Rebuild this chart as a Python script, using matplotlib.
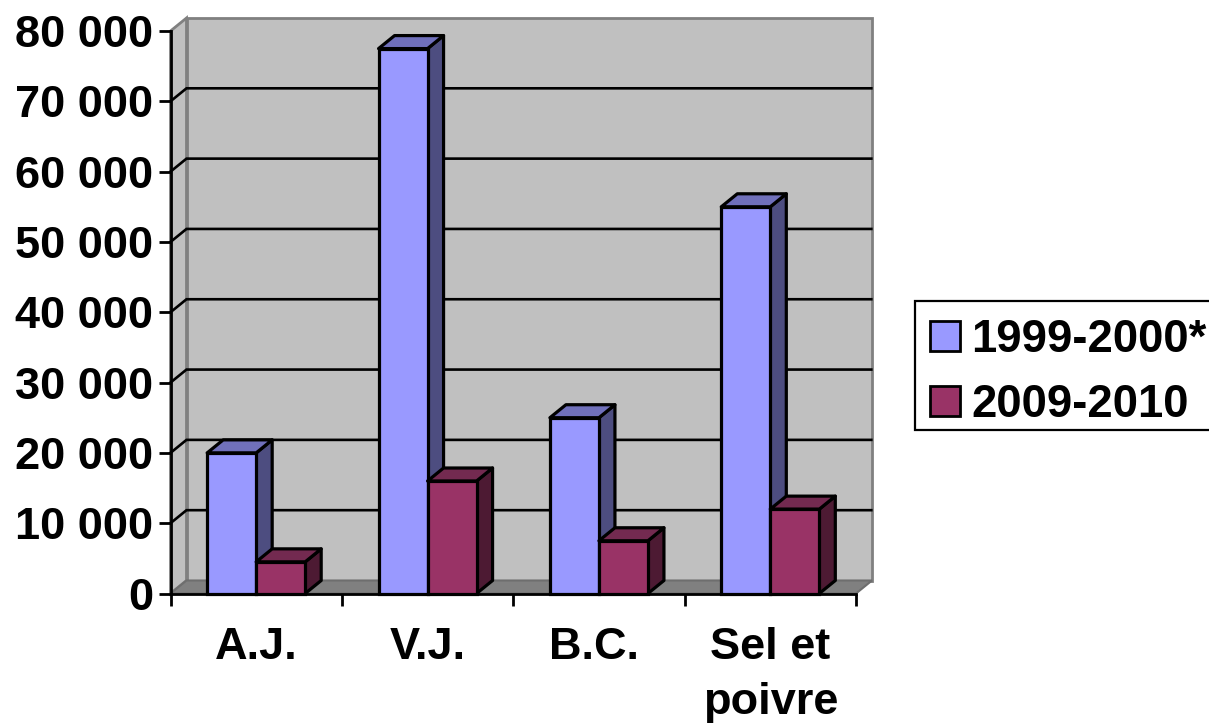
import matplotlib
matplotlib.use('Agg')
import matplotlib.pyplot as plt
from matplotlib.patches import Polygon, Rectangle

plt.rcParams['font.family'] = ['Liberation Sans', 'DejaVu Sans']
plt.rcParams['font.weight'] = 'bold'

categories = ['A.J.', 'V.J.', 'B.C.', 'Sel et\npoivre']
values_1999 = [20000, 77500, 25000, 55000]
values_2009 = [4500, 16000, 7500, 12000]
series_names = ['1999-2000*', '2009-2010']
y_ticks = [0, 10000, 20000, 30000, 40000, 50000, 60000, 70000, 80000]
y_labels = ['0', '10 000', '20 000', '30 000', '40 000', '50 000', '60 000', '70 000', '80 000']

W, H = 1209, 724
fig = plt.figure(figsize=(W / 100, H / 100), dpi=100)
left, right, top, bottom = 170.5, 856, 31, 593.5
ax = fig.add_axes([left / W, 1 - bottom / H, (right - left) / W, (bottom - top) / H])
ax.set_xlim(0, 4)
ax.set_ylim(0, 80000)
ax.patch.set_visible(False)

# depth of the fake 3d box, in data units
dx = 16 / (right - left) * 4
dy = 13 / (bottom - top) * 80000
bar_w = 49 / (right - left) * 4

GRAY = '#808080'
ax.add_patch(Polygon([(dx, dy), (4 + dx, dy), (4 + dx, 80000 + dy), (dx, 80000 + dy)],
                     fc='#c0c0c0', ec=GRAY, lw=2, clip_on=False, zorder=1))
ax.add_patch(Polygon([(0, 0), (dx, dy), (dx, 80000 + dy), (0, 80000)],
                     fc='#c0c0c0', ec=GRAY, lw=2, clip_on=False, zorder=1))
ax.add_patch(Polygon([(0, 0), (4, 0), (4 + dx, dy), (dx, dy)],
                     fc=GRAY, ec='#6e6e6e', lw=1.5, clip_on=False, zorder=1))

# no black line on the top edge of the wall
for t in y_ticks[1:-1]:
    ax.plot([0, dx, 4 + dx - 0.004], [t, t + dy, t + dy], color='black', lw=1.9,
            clip_on=False, zorder=2, solid_joinstyle='miter')


def draw_bar(x, v, front, top_col, side_col):
    ax.add_patch(Polygon([(x + bar_w, 0), (x + bar_w + dx, dy), (x + bar_w + dx, v + dy), (x + bar_w, v)],
                         fc=side_col, ec='black', lw=2.3, clip_on=False, zorder=3, joinstyle='round'))
    ax.add_patch(Polygon([(x, v), (x + bar_w, v), (x + bar_w + dx, v + dy), (x + dx, v + dy)],
                         fc=top_col, ec='black', lw=2.3, clip_on=False, zorder=3, joinstyle='round'))
    ax.add_patch(Rectangle((x, 0), bar_w, v, fc=front, ec='black', lw=2.3, clip_on=False, zorder=3))


for i in range(len(categories)):
    draw_bar(i + 0.5 - bar_w, values_1999[i], '#9999ff', '#7070bb', '#4d4d80')
for i in range(len(categories)):
    draw_bar(i + 0.5, values_2009[i], '#993366', '#732a50', '#4d1a33')

for s in ['top', 'right']:
    ax.spines[s].set_visible(False)
for s in ['left', 'bottom']:
    ax.spines[s].set_linewidth(2)
    ax.spines[s].set_zorder(4)

ax.set_yticks(y_ticks)
ax.set_yticklabels(y_labels, fontsize=32.5, fontweight='bold')
ax.tick_params(axis='y', length=9, width=2, pad=3.5)
ax.set_xticks(range(5))
ax.set_xticklabels([])
ax.tick_params(axis='x', length=8.5, width=2)

# B.C. sits a little left of its slot in the original
nudge = [0, 0, -0.03, 0]
for i, c in enumerate(categories):
    ax.text(i + 0.5 + nudge[i], -4700, c, ha='center', va='top', fontsize=32.5, fontweight='bold',
            linespacing=1.46, clip_on=False)

# legend box runs off the right edge of the image
fig.add_artist(Rectangle((915 / W, 1 - 430 / H), 310 / W, 129 / H, transform=fig.transFigure,
                         fc='white', ec='black', lw=1.6))
colors = ['#9999ff', '#993366']
for name, col, y0 in zip(series_names, colors, [321, 386]):
    fig.add_artist(Rectangle((929.5 / W, 1 - (y0 + 30) / H), 30 / W, 30 / H, transform=fig.transFigure,
                             fc=col, ec='black', lw=2))
    fig.text(971 / W, 1 - (y0 + 19) / H, name, ha='left', va='center', fontsize=32.8, fontweight='bold')

fig.savefig('out.png', dpi=100, facecolor='white')
